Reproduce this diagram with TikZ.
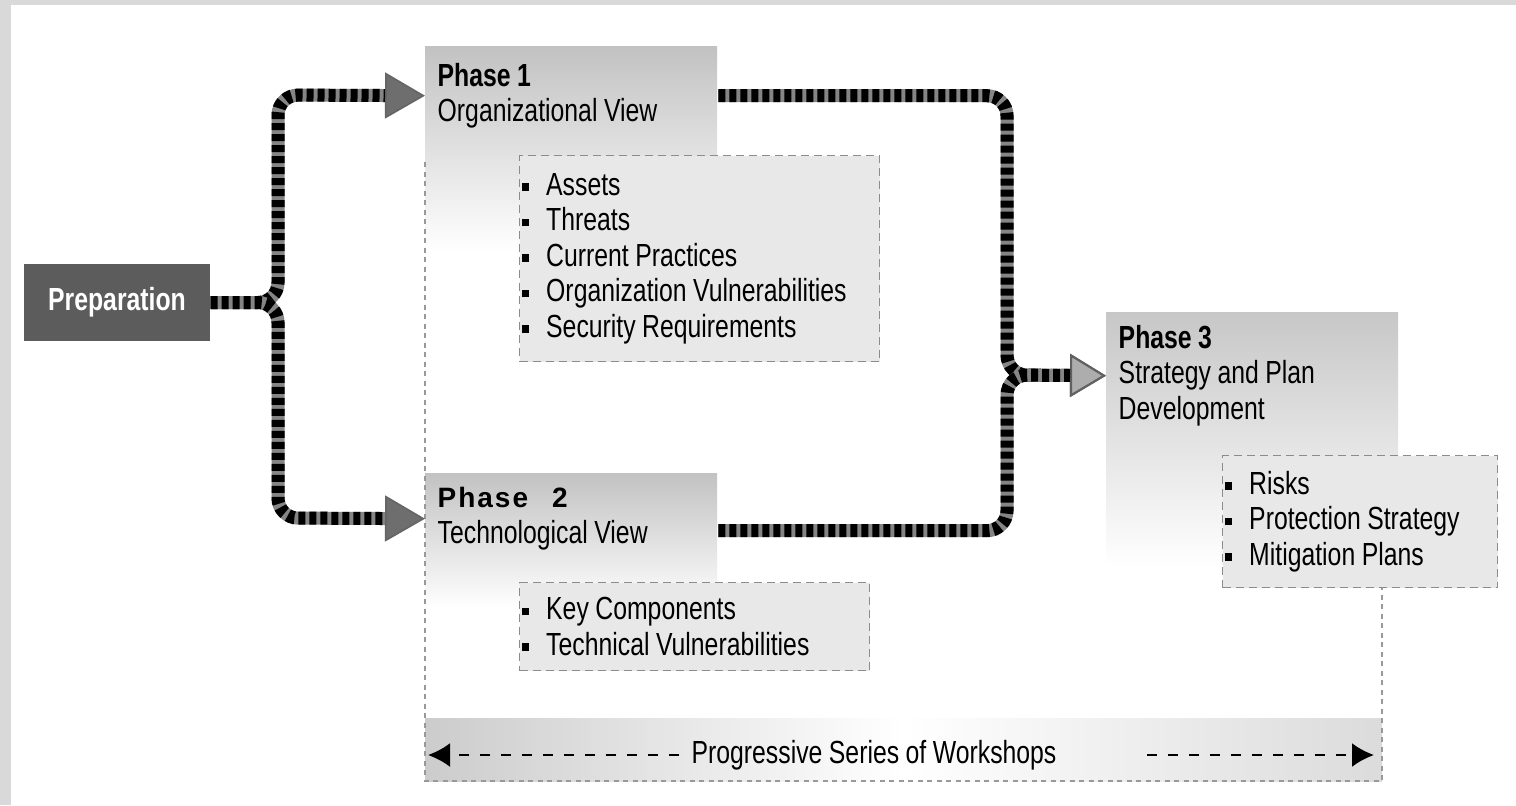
\documentclass[tikz,border=0pt]{standalone}
\usepackage{fontspec}
\setmainfont{Liberation Sans}[FakeStretch=0.775]
\newfontfamily\widefont{Liberation Sans}[LetterSpace=7]
\usetikzlibrary{arrows.meta, backgrounds}
\newcommand\basefont{\fontsize{9.1pt}{10.1pt}\selectfont\spaceskip=0.065cm plus 0.02cm\relax}
\newcommand\sq{\rule[0.045cm]{0.075cm}{0.075cm}\hspace{0.17cm}}
\tikzstyle{prepbox} = [rectangle, minimum width=1.86cm, minimum height=0.77cm, fill=black!64, text=white, font=\basefont\bfseries]
\tikzstyle{phase} = [rectangle, anchor=north west, inner xsep=0.12cm, inner ysep=0pt, text width=2.68cm, align=flush left]
\tikzstyle{list} = [rectangle, anchor=north west, draw=black!45, dash pattern=on 0.08cm off 0.05cm, fill=black!9, inner xsep=0.02cm, align=flush left]
\tikzstyle{outline} = [draw=black!40, line width=0.4pt, dash pattern=on 0.05cm off 0.045cm]
\tikzstyle{pipe} = [line width=0.13cm, draw=black!48, rounded corners=0.2cm, postaction={draw=black, -, dash pattern=on 0.07cm off 0.04cm, shorten >=#1}]
\tikzstyle{tipdark} = [-{Triangle[length=0.40cm, width=0.46cm, line width=0.5pt, fill=black!57, color=black!60]}]
\tikzstyle{tiplight} = [-{Triangle[length=0.36cm, width=0.43cm, line width=0.6pt, fill=black!32, color=black!62]}]
\tikzstyle{wsarrow} = [line width=0.7pt, dash pattern=on 0.1cm off 0.11cm, -{Latex[length=0.22cm, width=0.24cm]}]

\begin{document}
\begin{tikzpicture}[font=\basefont]
                 \useasboundingbox (0,0) rectangle (15.16,-8.05);
                 \node [prepbox] at (1.17,-3.025) (prep) {Preparation};
                 \node [phase, minimum height=0.98cm] at (4.25,-0.46) (ph1) {\textbf{Phase 1}\\Organizational View};
                 \node [phase, minimum height=0.90cm] at (4.25,-4.73) (ph2) {{\widefont\bfseries\fontsize{7.97pt}{10.1pt}\selectfont Phase\hspace{0.24cm}2}\\Technological View};
                 \node [phase, minimum height=1.26cm] at (11.06,-3.12) (ph3) {\textbf{Phase 3}\\Strategy and Plan\\Development};
                 \node [list, minimum width=3.60cm, minimum height=2.06cm, text width=3.56cm] at (5.19,-1.55) (l1) {\sq Assets\\\sq Threats\\\sq Current Practices\\\sq Organization Vulnerabilities\\\sq Security Requirements};
                 \node [list, minimum width=3.50cm, minimum height=0.88cm, text width=3.46cm] at (5.19,-5.82) (l2) {\sq Key Components\\\sq Technical Vulnerabilities};
                 \node [list, minimum width=2.75cm, minimum height=1.32cm, text width=2.71cm] at (12.22,-4.55) (l3) {\sq Risks\\\sq Protection Strategy\\\sq Mitigation Plans};
                 \node at (8.74,-7.55) (ws) {Progressive Series of Workshops};
                 \coordinate (wsl) at (4.28,-7.55);
                 \coordinate (wsm) at (11.47,-7.55);
                 \coordinate (wsr) at (13.74,-7.55);
                 \draw [pipe=0.40cm, tipdark] (prep.east) -| (2.78,-0.95) -- (ph1.west);
                 \draw [pipe=0.40cm, tipdark] (prep.east) -| (2.78,-5.18) -- (ph2.west);
                 \draw [pipe=0.36cm, tiplight] (ph1.east) -| (10.07,-3.75) -- (ph3.west);
                 \draw [pipe=0.36cm, tiplight] ([yshift=-0.12cm]ph2.east) -| (10.07,-3.75) -- (ph3.west);
                 \draw [wsarrow] (ws.west) -- (wsl);
                 \draw [wsarrow] (wsm) -- (wsr);
                 \begin{scope}[on background layer]
                 \fill [black!15] (0,0) rectangle (15.16,-8.05);
                 \fill [white] (0.11,-0.05) rectangle (15.16,-8.05);
                 \shade [left color=black!20, right color=black!14, middle color=white] (4.25,-7.18) rectangle (13.82,-7.81);
                 \shade [top color=black!24, bottom color=white] (ph1.north west) rectangle ++(2.92,-2.05);
                 \shade [top color=black!24, bottom color=white] (ph2.north west) rectangle ++(2.92,-1.35);
                 \shade [top color=black!22, bottom color=white] (ph3.north west) rectangle ++(2.92,-2.55);
                 \draw [outline] (4.25,-1.62) -- (4.25,-7.81) -- (13.82,-7.81) -- (13.82,-7.81 |- l3.south);
                 \end{scope}
                 \end{tikzpicture}
\end{document}
